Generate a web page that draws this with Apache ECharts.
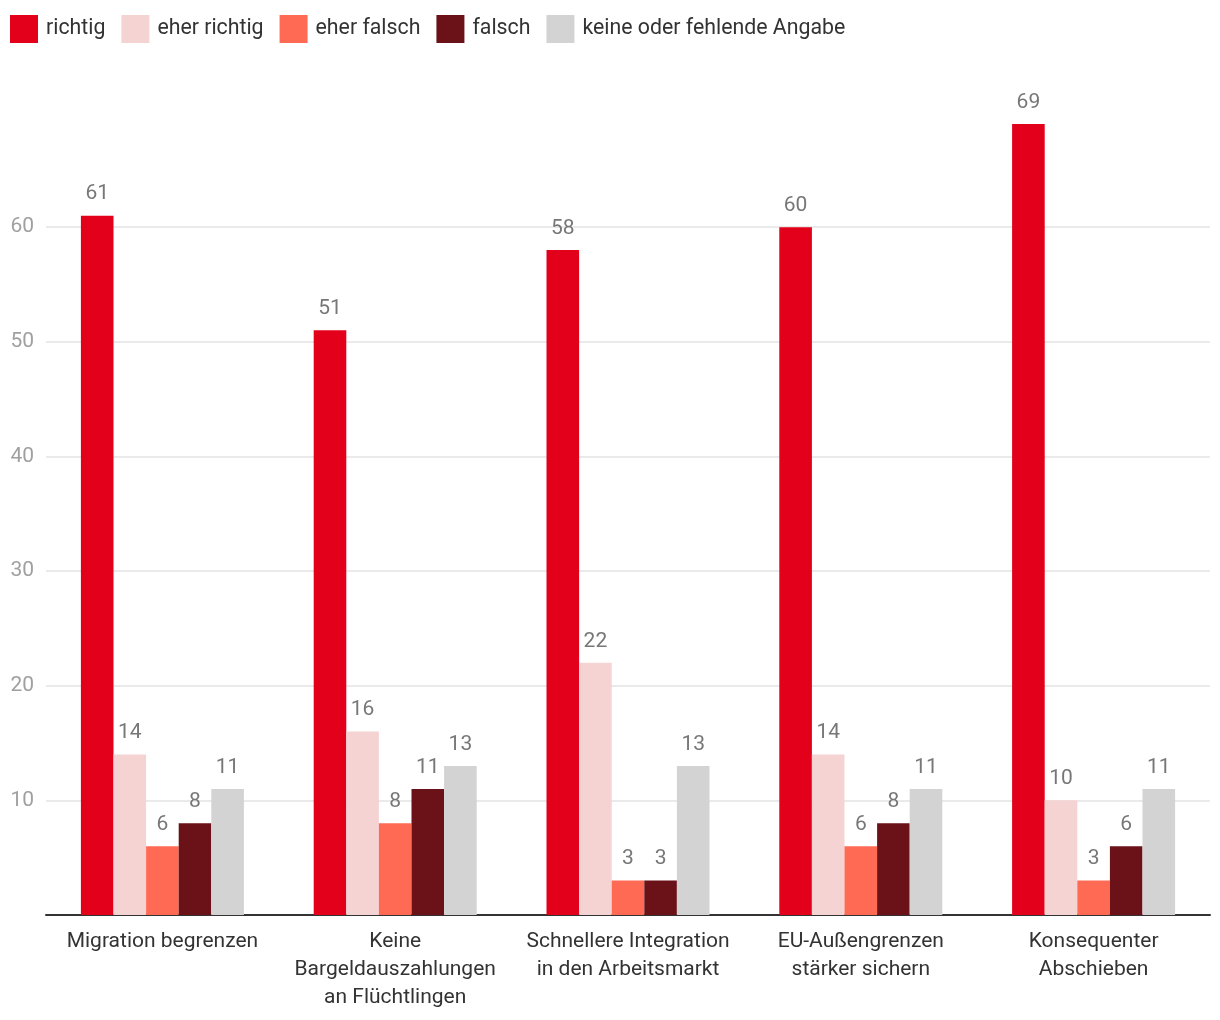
<!DOCTYPE html>
<html><head><meta charset="utf-8">
<script src="https://cdn.jsdelivr.net/npm/echarts@6/dist/echarts.min.js"></script>
<style>html,body{margin:0;padding:0;background:#fff}#c{width:1220px;height:1020px}</style>
</head><body><div id="c"></div>
<script>
const categories = ["Migration begrenzen", "Keine\nBargeldauszahlungen\nan Flüchtlingen", "Schnellere Integration\nin den Arbeitsmarkt", "EU-Außengrenzen\nstärker sichern", "Konsequenter\nAbschieben"];
const seriesNames = ["richtig", "eher richtig", "eher falsch", "falsch", "keine oder fehlende Angabe"];
const richtig = [61, 51, 58, 60, 69];
const eherRichtig = [14, 16, 22, 14, 10];
const eherFalsch = [6, 8, 3, 6, 3];
const falsch = [8, 11, 3, 8, 6];
const keineAngabe = [11, 13, 13, 11, 11];
const colors = ["#e2001a", "#f6d3d3", "#ff6a55", "#6a1218", "#d3d3d3"];
const values = [richtig, eherRichtig, eherFalsch, falsch, keineAngabe];
const font = "Roboto";
const chart = echarts.init(document.getElementById('c'));
const g = '#e3e3e3';
chart.setOption({
  animation: false,
  textStyle: {fontFamily: font},
  legend: {
    left: 10, top: 12, padding: 0, itemWidth: 28, itemHeight: 28, itemGap: 16,
    icon: 'rect',
    textStyle: {fontSize: 21.3, color: '#333', fontFamily: font, padding: [0,0,0,3], lineHeight: 34},
    data: seriesNames
  },
  grid: {left: 46, right: 10, top: 124, bottom: 105, containLabel: false},
  xAxis: {
    type: 'category', data: categories,
    axisLine: {lineStyle: {color: '#333', width: 2}},
    axisTick: {show: false},
    axisLabel: {fontSize: 21, color: '#333', lineHeight: 28, margin: 13, interval: 0, fontFamily: font}
  },
  yAxis: {
    type: 'value', min: 0, max: 69, interval: 10,
    axisLabel: {showMinLabel: false, showMaxLabel: false, fontSize: 21, color: '#a0a0a0', margin: 12, fontFamily: font},
    axisLine: {show: false}, axisTick: {show: false},
    splitLine: {lineStyle: {color: [g, g, g, g, g, g, g, 'rgba(0,0,0,0)'], width: 1.5}}
  },
  series: seriesNames.map((n, i) => ({
    name: n, type: 'bar', data: values[i],
    barWidth: 32.6, barGap: '0%', barCategoryGap: '30%',
    itemStyle: {color: colors[i]},
    label: {show: true, position: 'top', distance: 11, fontSize: 21, color: '#777', fontFamily: font}
  }))
});
</script></body></html>
